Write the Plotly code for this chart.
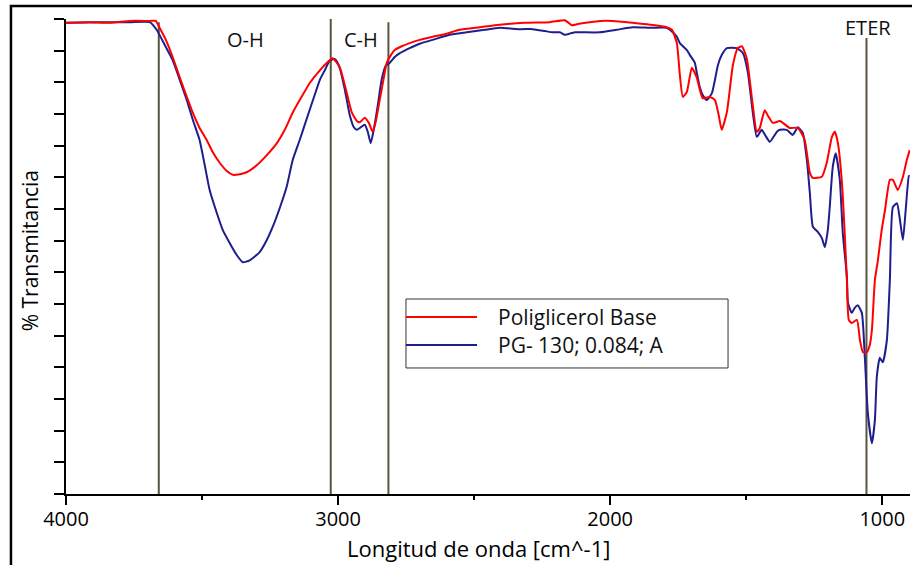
import plotly.graph_objects as go

# ---- data (wavenumber in cm^-1, transmittance in %) ----
base_wn = [4000, 3913, 3839, 3766, 3692, 3670, 3656, 3633, 3608, 3582, 3556, 3534, 3509, 3483,
           3461, 3435, 3409, 3387, 3361, 3336, 3299, 3262, 3225, 3196, 3167, 3141, 3104, 3067,
           3038, 3020, 2994, 2968, 2950, 2931, 2920, 2902, 2887, 2873, 2862, 2847, 2832, 2821,
           2806, 2792, 2766, 2737, 2700, 2652, 2608, 2553, 2479, 2406, 2314, 2222, 2167, 2156,
           2141, 2119, 2075, 2038, 1990, 1917, 1854, 1792, 1773, 1755, 1744, 1733, 1718, 1700,
           1682, 1660, 1634, 1615, 1601, 1590, 1571, 1549, 1531, 1516, 1498, 1479, 1461, 1450,
           1432, 1421, 1402, 1376, 1340, 1310, 1285, 1266, 1255, 1222, 1204, 1185, 1174, 1163,
           1148, 1138, 1130, 1123, 1112, 1093, 1082, 1071, 1057, 1046, 1038, 1027, 1016, 1002,
           990, 972, 961, 943, 924, 910, 899]
base_t = [99.4, 99.5, 99.4, 99.7, 99.7, 99.7, 98.6, 96.7, 94.0, 90.8, 87.7, 85.2, 82.8, 80.9,
          79.0, 77.3, 76.0, 75.4, 75.5, 75.8, 76.9, 78.5, 80.4, 82.5, 85.2, 87.2, 89.9, 91.9,
          93.2, 93.8, 92.4, 88.3, 85.3, 83.9, 83.7, 84.4, 83.6, 82.2, 83.7, 87.2, 90.7, 93.1,
          94.3, 95.1, 95.7, 96.2, 96.7, 97.2, 97.6, 98.3, 98.7, 99.1, 99.4, 99.5, 99.8, 99.5,
          99.0, 99.2, 99.5, 99.7, 99.7, 99.4, 99.1, 98.7, 98.3, 96.2, 91.2, 87.7, 88.5, 92.3,
          90.8, 87.5, 87.7, 87.2, 84.8, 82.5, 85.3, 92.7, 95.4, 95.7, 93.8, 87.5, 82.2, 82.8,
          85.6, 84.8, 83.6, 83.9, 82.8, 82.8, 80.9, 75.7, 74.9, 75.1, 77.3, 81.4, 82.2, 80.4,
          74.1, 66.2, 58.8, 52.5, 52.0, 52.5, 49.3, 47.4, 47.4, 48.5, 50.9, 58.8, 61.9, 66.7,
          69.8, 74.6, 74.6, 73.0, 75.1, 77.7, 79.3]

pg_wn = [4000, 3876, 3766, 3692, 3667, 3637, 3608, 3582, 3556, 3534, 3509, 3490, 3472, 3446,
         3424, 3398, 3372, 3350, 3325, 3288, 3262, 3240, 3214, 3189, 3167, 3141, 3111, 3086,
         3067, 3049, 3031, 3012, 2994, 2975, 2957, 2942, 2931, 2917, 2902, 2891, 2880, 2869,
         2854, 2840, 2825, 2810, 2792, 2773, 2737, 2700, 2652, 2590, 2527, 2461, 2406, 2332,
         2284, 2240, 2211, 2185, 2167, 2156, 2130, 2101, 2038, 1976, 1917, 1854, 1792, 1770,
         1755, 1744, 1718, 1707, 1689, 1682, 1671, 1660, 1645, 1626, 1604, 1590, 1571, 1535,
         1512, 1494, 1476, 1461, 1443, 1428, 1413, 1387, 1376, 1351, 1329, 1310, 1292, 1277,
         1266, 1255, 1237, 1222, 1211, 1200, 1193, 1182, 1171, 1156, 1145, 1130, 1126, 1112,
         1101, 1090, 1075, 1064, 1053, 1038, 1027, 1020, 1009, 998, 983, 972, 961, 946, 935,
         924, 913, 902, 899]
pg_t = [99.4, 99.5, 99.5, 99.5, 98.3, 95.9, 93.5, 90.4, 87.2, 84.1, 80.9, 76.9, 73.0, 69.4,
        66.7, 64.6, 62.7, 61.6, 61.9, 63.2, 65.1, 67.2, 70.2, 73.5, 77.7, 80.9, 84.8, 88.0,
        90.4, 91.9, 93.4, 93.7, 92.3, 88.8, 84.8, 82.9, 82.5, 82.9, 83.3, 82.2, 80.4, 82.5,
        86.4, 90.4, 92.6, 93.1, 94.0, 94.6, 95.4, 96.1, 96.7, 97.5, 97.9, 98.3, 98.6, 98.4,
        98.4, 98.1, 97.9, 97.9, 97.5, 97.6, 97.9, 97.9, 97.9, 98.3, 98.7, 98.6, 98.6, 97.9,
        97.2, 96.2, 95.1, 94.3, 93.1, 91.6, 89.3, 88.0, 87.2, 88.3, 92.7, 94.3, 95.4, 95.4,
        94.6, 91.6, 85.3, 81.4, 82.5, 81.5, 80.6, 82.2, 82.5, 82.5, 81.7, 82.9, 82.0, 77.7,
        72.5, 67.2, 66.4, 65.4, 64.0, 66.7, 70.3, 76.6, 78.8, 74.6, 66.2, 59.3, 55.2, 53.6,
        54.4, 54.8, 53.6, 46.6, 37.8, 33.0, 36.7, 43.5, 46.5, 45.8, 49.3, 58.8, 70.3, 70.9,
        68.3, 65.1, 70.3, 75.2, 75.2]

band_wn = [3659, 3027, 2815, 1058]
band_top = [99.5, 100.3, 99.5, 97.0]
band_labels = ["O-H", "C-H", "ETER"]
label_wn = [3339, 2917, 1053]
label_t = [96.7, 96.7, 98.6]

series_names = ["Poliglicerol Base", "PG- 130; 0.084; A"]
x_title = "Longitud de onda [cm^-1]"
y_title = "% Transmitancia"

RED = "#ff0000"
BLUE = "#1e1e8c"
BAND_COLOR = "#5a5440"
FONT = "Open Sans"

fig = go.Figure()
fig.add_trace(go.Scatter(x=pg_wn, y=pg_t, mode="lines", name=series_names[1],
                         line=dict(color=BLUE, width=2, shape="spline", smoothing=0.5),
                         showlegend=False))
fig.add_trace(go.Scatter(x=base_wn, y=base_t, mode="lines", name=series_names[0],
                         line=dict(color=RED, width=2, shape="spline", smoothing=0.5),
                         showlegend=False))

for wn, top in zip(band_wn, band_top):
    fig.add_shape(type="line", xref="x", yref="y", x0=wn, x1=wn, y0=25, y1=top,
                  line=dict(color=BAND_COLOR, width=2), layer="below")

for txt, wn, t in zip(band_labels, label_wn, label_t):
    fig.add_annotation(x=wn, y=t, text=txt, showarrow=False, xref="x", yref="y",
                       font=dict(family=FONT, size=20, color="#111111"))

# legend box (drawn by hand so its size matches the original)
fig.add_shape(type="rect", xref="paper", yref="paper", x0=0.4028, x1=0.7844, y0=0.2653, y1=0.4105,
              line=dict(color="#333333", width=1), fillcolor="white", layer="above")
for name, color, yp in zip(series_names, [RED, BLUE], [0.3726, 0.3137]):
    fig.add_shape(type="line", xref="paper", yref="paper", x0=0.4028, x1=0.4870, y0=yp, y1=yp,
                  line=dict(color=color, width=2), layer="above")
    fig.add_annotation(x=0.5095, y=yp, xref="paper", yref="paper", text=name, showarrow=False,
                       xanchor="left", yanchor="middle",
                       font=dict(family=FONT, size=21, color="#111111"))

# axis titles
fig.add_annotation(x=0.4893, y=-0.1137, xref="paper", yref="paper", text=x_title, showarrow=False,
                   xanchor="center", yanchor="middle", font=dict(family=FONT, size=22, color="black"))
fig.add_annotation(x=-0.0427, y=0.5130, xref="paper", yref="paper", text=y_title, showarrow=False,
                   textangle=-90, xanchor="center", yanchor="middle",
                   font=dict(family=FONT, size=21, color="black"))

# outer frame of the picture
fig.add_shape(type="rect", xref="paper", yref="paper", x0=-0.0652, x1=1.2, y0=-0.5, y1=1.0274,
              line=dict(color="black", width=2.5))

fig.update_layout(
    width=912, height=565,
    margin=dict(l=66, r=2, t=19, b=71),
    paper_bgcolor="white", plot_bgcolor="white",
    font=dict(family=FONT, color="#111111"),
    showlegend=False,
    xaxis=dict(range=[4000, 898], tickmode="linear", tick0=1000, dtick=1000,
               ticks="outside", ticklen=9, tickwidth=1.5, tickcolor="black",
               ticklabelstandoff=-3,
               showline=True, linecolor="black", linewidth=2, showgrid=False, zeroline=False,
               tickfont=dict(family=FONT, size=20, color="black"),
               minor=dict(dtick=500, ticks="outside", ticklen=4, tickwidth=1.5, tickcolor="black",
                          showgrid=False)),
    yaxis=dict(range=[25, 100], tickmode="linear", tick0=25, dtick=5,
               ticks="outside", ticklen=10, tickwidth=1.5, tickcolor="black",
               showticklabels=False, showline=True, linecolor="black", linewidth=2,
               showgrid=False, zeroline=False),
)

fig.write_html("out.html")
